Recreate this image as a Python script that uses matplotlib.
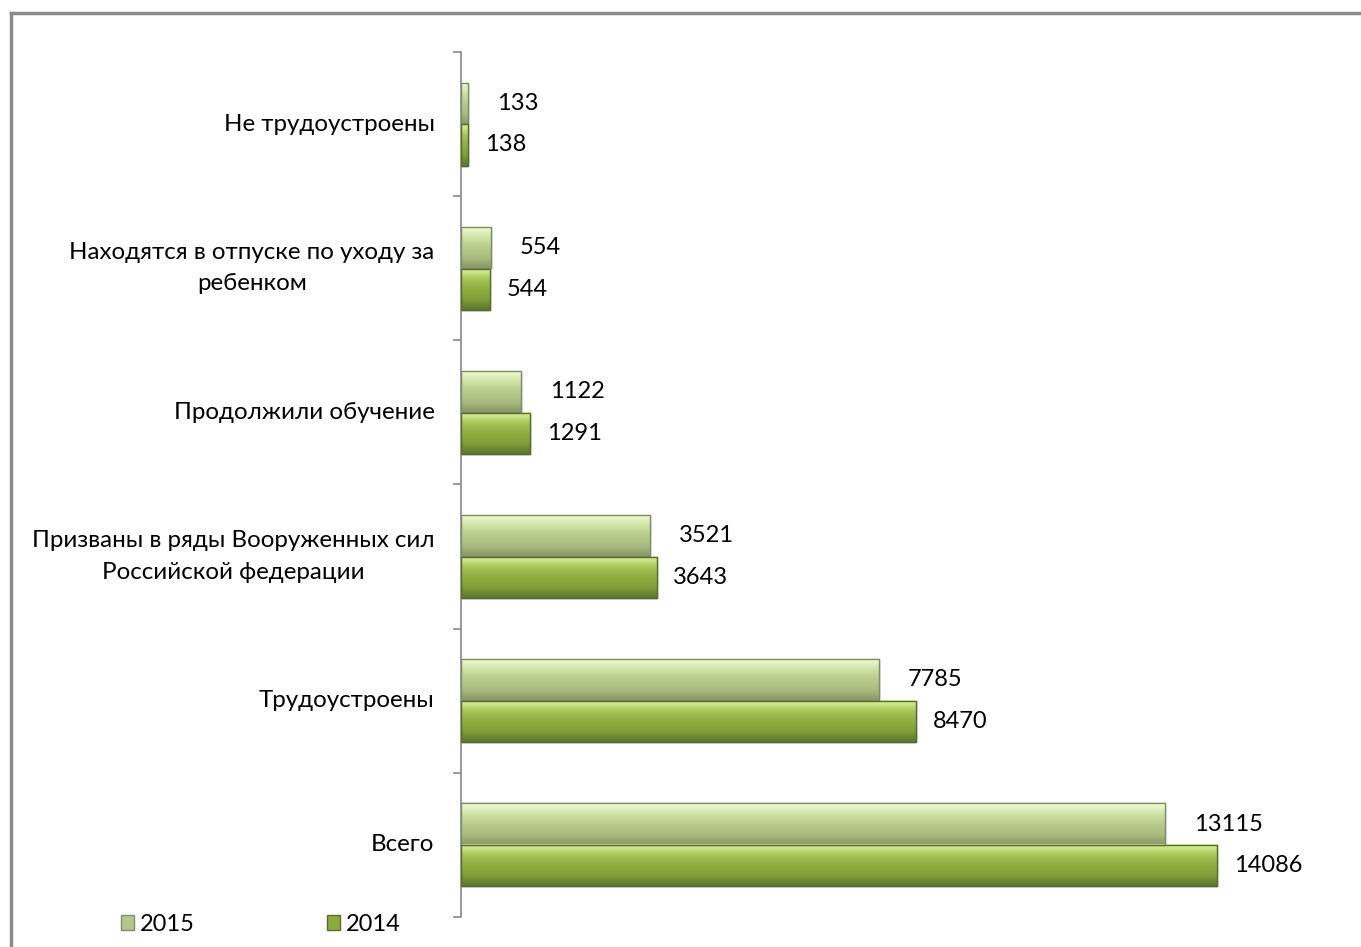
import numpy as np
import matplotlib
matplotlib.use("Agg")
import matplotlib.pyplot as plt
from matplotlib.colors import LinearSegmentedColormap
from matplotlib.lines import Line2D
from matplotlib.patches import Patch

plt.rcParams['font.family'] = ['Lato', 'DejaVu Sans']

categories = ["Всего", "Трудоустроены",
              "Призваны в ряды Вооруженных сил\nРоссийской федерации",
              "Продолжили обучение",
              "Находятся в отпуске по уходу за\nребенком",
              "Не трудоустроены"]
values_2015 = [13115, 7785, 3521, 1122, 554, 133]
values_2014 = [14086, 8470, 3643, 1291, 544, 138]

fig = plt.figure(figsize=(13.61, 9.47), dpi=100)
ax = fig.add_axes([461 / 1361, 30 / 947, 859 / 1361, 865 / 947])

y = np.arange(len(categories))
h = 0.285
off = 0.145

cmap15 = LinearSegmentedColormap.from_list("c15", ["#f4fcd8", "#d2e3a8", "#b8cc8e", "#a9bd80", "#8a9a68"])
cmap14 = LinearSegmentedColormap.from_list("c14", ["#dcf59e", "#a6c656", "#8eaf40", "#7f9e38", "#5f7530"])

bars15 = ax.barh(y + off, values_2015, height=h, color="#b3c88a", edgecolor="#7f8c6a", linewidth=1, zorder=2)
bars14 = ax.barh(y - off, values_2014, height=h, color="#8aac3e", edgecolor="#5a6b30", linewidth=1, zorder=2)

# vertical gradient inside each bar
grad = np.linspace(0, 1, 64).reshape(-1, 1)
for bars, cm in ((bars15, cmap15), (bars14, cmap14)):
    for b in bars:
        x0, y0, w, hh = b.get_x(), b.get_y(), b.get_width(), b.get_height()
        ax.imshow(grad, cmap=cm, extent=(x0, x0 + w, y0, y0 + hh), origin="upper",
                  aspect="auto", zorder=2.5, interpolation="bilinear")
        ax.add_patch(plt.Rectangle((x0, y0), w, hh, fill=False,
                                   edgecolor=b.get_edgecolor(), linewidth=1, zorder=3))

ax.set_xlim(0, 16000)
ax.set_ylim(-0.5, len(categories) - 0.5)

for b, v in zip(bars15, values_2015):
    ax.annotate(str(v), (b.get_width(), b.get_y() + b.get_height() / 2),
                xytext=(21, 0), textcoords="offset points", va="center", ha="left", fontsize=17)
for b, v in zip(bars14, values_2014):
    ax.annotate(str(v), (b.get_width(), b.get_y() + b.get_height() / 2),
                xytext=(12, 0), textcoords="offset points", va="center", ha="left", fontsize=17)

ax.set_yticks(y)
ax.set_yticklabels(categories, fontsize=17.4, multialignment="center", linespacing=1.6)
for lab in ax.get_yticklabels():
    lab.set_va("center")
ax.tick_params(axis="y", which="major", length=0, pad=19)
ax.set_yticks(np.arange(-0.5, len(categories), 1), minor=True)
ax.tick_params(axis="y", which="minor", length=6, color="#888888", width=1.2)
ax.set_xticks([])
for s in ("top", "right", "bottom"):
    ax.spines[s].set_visible(False)
ax.spines["left"].set_color("#888888")
ax.spines["left"].set_linewidth(1.2)

handles = [Patch(facecolor="#b3c88a", edgecolor="#7f8c6a"),
           Patch(facecolor="#8aac3e", edgecolor="#5a6b30")]
fig.legend(handles, ["2015", "2014"], loc="lower left", bbox_to_anchor=(100 / 1361, -9 / 947),
           ncol=2, frameon=False, fontsize=17, handlelength=0.55, handleheight=0.55,
           handletextpad=0.25, columnspacing=5.6)

fig.add_artist(Line2D([11 / 1361, 11 / 1361], [0, 1 - 13 / 947], color="#8c8c8c", lw=2.5))
fig.add_artist(Line2D([11 / 1361, 1], [1 - 13 / 947, 1 - 13 / 947], color="#8c8c8c", lw=2.5))

fig.savefig("out.png", dpi=100)
